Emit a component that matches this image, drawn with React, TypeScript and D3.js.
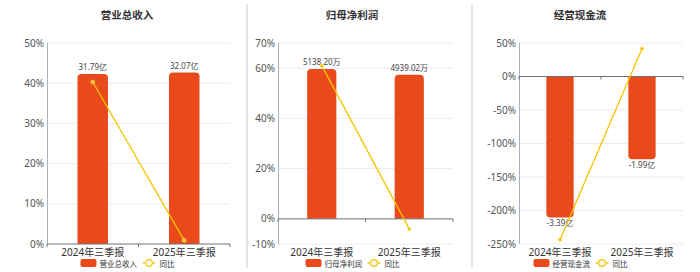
import React from "react";
import * as d3 from "d3";

const categories = ["2024年三季报", "2025年三季报"];

const titles = ["营业总收入", "归母净利润", "经营现金流"];
const barValues1 = [31.79, 32.07];
const barValues2 = [5138.2, 4939.02];
const barValues3 = [-3.39, -1.99];
const barLabels1 = ["31.79亿", "32.07亿"];
const barLabels2 = ["5138.20万", "4939.02万"];
const barLabels3 = ["-3.39亿", "-1.99亿"];
const yoy1 = [40.3, 0.9];
const yoy2 = [61, -4];
const yoy3 = [-243.5, 41.5];
const ticks1 = [0, 10, 20, 30, 40, 50];
const ticks2 = [-10, 0, 20, 40, 60, 70];
const ticks3 = [-250, -200, -150, -100, -50, 0, 50];
const barDomains = [
  [0, 37.6],
  [-861, 6025],
  [-4.03, 0.805],
];

const BAR = "#E84A1B";
const LINE = "#F5C400";
const FONT = "'Noto Sans', 'Noto Sans CJK SC', sans-serif";

type PanelDef = {
  title: string;
  bars: number[];
  labels: string[];
  yoy: number[];
  ticks: number[];
  barDomain: number[];
  left: number;
  right: number;
  center: number;
};

const panels: PanelDef[] = [
  { title: titles[0], bars: barValues1, labels: barLabels1, yoy: yoy1, ticks: ticks1, barDomain: barDomains[0], left: 47, right: 230, center: 127 },
  { title: titles[1], bars: barValues2, labels: barLabels2, yoy: yoy2, ticks: ticks2, barDomain: barDomains[1], left: 278, right: 453, center: 352 },
  { title: titles[2], bars: barValues3, labels: barLabels3, yoy: yoy3, ticks: ticks3, barDomain: barDomains[2], left: 519, right: 683, center: 580 },
];

const TOP = 43;
const BOTTOM = 244;

function barPath(x: number, w: number, y0: number, y1: number, r: number) {
  const h = Math.abs(y1 - y0);
  const rr = Math.min(r, h / 2, w / 2);
  if (y1 < y0) {
    return `M${x},${y0} L${x},${y1 + rr} Q${x},${y1} ${x + rr},${y1} L${x + w - rr},${y1} Q${x + w},${y1} ${x + w},${y1 + rr} L${x + w},${y0} Z`;
  }
  return `M${x},${y0} L${x},${y1 - rr} Q${x},${y1} ${x + rr},${y1} L${x + w - rr},${y1} Q${x + w},${y1} ${x + w},${y1 - rr} L${x + w},${y0} Z`;
}

function Panel({ p }: { p: PanelDef }) {
  const pMin = d3.min(p.ticks)!;
  const pMax = d3.max(p.ticks)!;
  const yP = d3.scaleLinear().domain([pMin, pMax]).range([BOTTOM, TOP]);
  const yB = d3.scaleLinear().domain(p.barDomain).range([BOTTOM, TOP]);
  const x = d3.scaleBand().domain(categories).range([p.left, p.right]);
  const bw = x.bandwidth() / 3;
  const zeroY = yP(0);
  const linePts = categories.map((c, i) => [x(c)! + x.bandwidth() / 2, yP(p.yoy[i])] as [number, number]);
  const line = d3.line()(linePts)!;
  const boundaries = [p.left, ...categories.map((c) => x(c)! + x.bandwidth())];
  return (
    <g>
      <text x={p.center} y={19} textAnchor="middle" fontSize={10.5} fontWeight="bold" fill="#333" fontFamily={FONT}>
        {p.title}
      </text>
      {p.ticks.map((t) => (
        <g key={t}>
          {t !== 0 && (
            <line x1={p.left} x2={p.right} y1={yP(t)} y2={yP(t)} stroke="#E9ECF5" strokeWidth={1} />
          )}
          <text x={p.left - 3} y={yP(t)} dy="0.35em" textAnchor="end" fontSize={10} fill="#555" fontFamily={FONT}>
            {t}%
          </text>
        </g>
      ))}
      <line x1={p.left + 0.5} x2={p.left + 0.5} y1={TOP} y2={BOTTOM} stroke="#AAB0BE" strokeWidth={1} />
      {categories.map((c, i) => {
        const bx = x(c)! + (x.bandwidth() - bw) / 2;
        const y1 = yB(p.bars[i]);
        const y0 = yB(0);
        const neg = p.bars[i] < 0;
        return (
          <g key={c}>
            <path d={barPath(bx, bw, y0, y1, 4)} fill={BAR} />
            <text
              x={bx + bw / 2}
              y={neg ? y1 + 9 : y1 - 4}
              textAnchor="middle"
              fontSize={8}
              fill="#444"
              fontFamily={FONT}
            >
              {p.labels[i]}
            </text>
          </g>
        );
      })}
      <line x1={p.left} x2={p.right} y1={zeroY} y2={zeroY} stroke="#6E7079" strokeWidth={1} />
      {boundaries.map((bx, i) => (
        <line key={i} x1={bx} x2={bx} y1={zeroY} y2={zeroY + 3} stroke="#6E7079" strokeWidth={1} />
      ))}
      <path d={line} fill="none" stroke={LINE} strokeWidth={1.3} />
      {linePts.map((pt, i) => (
        <circle key={i} cx={pt[0]} cy={pt[1]} r={2} fill={LINE} stroke="#fff" strokeWidth={0.4} />
      ))}
      {categories.map((c) => (
        <text
          key={c}
          x={x(c)! + x.bandwidth() / 2}
          y={256}
          textAnchor="middle"
          fontSize={10}
          fill="#333"
          fontFamily={FONT}
        >
          {c}
        </text>
      ))}
      <g transform={`translate(${p.center - 46.5},0)`}>
        <rect x={0} y={259} width={16} height={8} rx={2} fill={BAR} />
        <text x={19} y={266.5} fontSize={7.5} fill="#333" fontFamily={FONT}>
          {p.title}
        </text>
        <line x1={62} x2={75} y1={263} y2={263} stroke={LINE} strokeWidth={1.2} />
        <circle cx={68.5} cy={263} r={3.3} fill="#fff" stroke={LINE} strokeWidth={1.2} />
        <text x={79} y={266.5} fontSize={7.5} fill="#333" fontFamily={FONT}>
          同比
        </text>
      </g>
    </g>
  );
}

export default function App() {
  return (
    <svg width={700} height={272} style={{ position: "absolute", left: 0, top: 0, background: "#fff" }}>
      <rect width={700} height={272} fill="#fff" />
      <line x1={247} x2={247} y1={4} y2={268} stroke="#DDDDDD" strokeWidth={1.5} />
      <line x1={472} x2={472} y1={4} y2={268} stroke="#DDDDDD" strokeWidth={1.5} />
      {panels.map((p, i) => (
        <Panel key={i} p={p} />
      ))}
    </svg>
  );
}
